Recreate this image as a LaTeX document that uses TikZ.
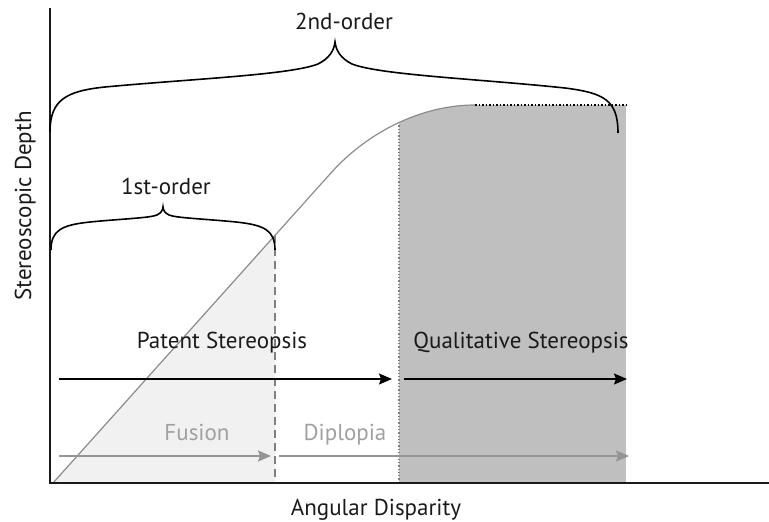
\documentclass[tikz,border=0pt]{standalone}
\usepackage{fontspec}
\setmainfont{PT Sans}
\usetikzlibrary{arrows.meta}

\definecolor{txtdark}{HTML}{1A1A1A}
\definecolor{txtgray}{HTML}{A0A0A0}
\definecolor{shadegray}{HTML}{BFBFBF}
\definecolor{lightfill}{HTML}{F1F1F1}

\begin{document}
\begin{tikzpicture}[
    x=1pt, y=-1pt,
    >={Stealth[length=13pt, width=11pt, inset=2pt]},
    font=\fontsize{23}{27}\selectfont,
    lbl/.style={
        text=txtdark, anchor=base, inner sep=0pt
    },
    lblgray/.style={
        lbl, text=txtgray
    },
    axisline/.style={
        draw=txtdark, line width=1.4pt
    },
    brace/.style={
        draw=black, line width=1.6pt
    },
    spanarrow/.style={
        ->, draw=black, line width=1.6pt
    },
    spangray/.style={
        ->, draw=black!42, line width=1.6pt
    },
    response/.style={
        draw=black!45, line width=1.2pt
    }
]
\useasboundingbox (0,0) rectangle (769,522);

% key points of the curve
\coordinate (orig) at (53,483);
\coordinate (fuslim) at (275,235);
\coordinate (bend) at (330,174);
\coordinate (sat) at (475,105);
\coordinate (satend) at (629,105);

% shaded zones
\fill[lightfill] (orig) -- (fuslim) -- (275,483) -- cycle;
\begin{scope}
    \clip (orig) -- (bend) .. controls (370,129) and (425,105) .. (sat)
        -- (640,105) -- (640,483) -- cycle;
    \fill[shadegray] (399,100) rectangle (626,483);
\end{scope}

% limits
\draw[draw=black!50, line width=1.2pt, dash pattern=on 8pt off 5pt]
    (fuslim) -- (275,483);
\draw[draw=black!50, line width=1.3pt, dotted] (399,122) -- (399,483);
\draw[draw=black, line width=1.5pt, dotted] (sat) -- (satend);

% response curve
\draw[response] (orig) -- (bend) .. controls (370,129) and (425,105) .. (sat);

% axes
\draw[axisline] (50,8) -- (50,483) -- (769,483);

% braces
\draw[brace] (50,132) .. controls (50,100) and (66,91) .. (105,87)
    .. controls (190,79) and (290,75) .. (318,64)
    .. controls (330,58) and (334,50) .. (335,42)
    .. controls (336,50) and (340,58) .. (352,64)
    .. controls (380,75) and (480,79) .. (565,88)
    .. controls (604,93) and (618,100) .. (618,133);
\draw[brace] (51,250) .. controls (51,230) and (62,225) .. (90,222)
    .. controls (120,219) and (150,218) .. (157,215)
    .. controls (161,213) and (163,210) .. (163,207)
    .. controls (163,210) and (165,213) .. (169,215)
    .. controls (176,218) and (206,219) .. (236,222)
    .. controls (264,225) and (275,230) .. (275,250);

% range arrows
\coordinate (patA) at (59,379);
\coordinate (patB) at (392,379);
\coordinate (qualA) at (404,379);
\coordinate (qualB) at (627,379);
\coordinate (fusA) at (59,456);
\coordinate (fusB) at (271,456);
\coordinate (dipA) at (279,456);
\coordinate (dipB) at (629,456);
\draw[spanarrow] (patA) -- (patB);
\draw[spanarrow] (qualA) -- (qualB);
\draw[spangray] (fusA) -- (fusB);
\draw[spangray] (dipA) -- (dipB);

% labels
\node[lbl] (second) at (344,29) {2nd-order};
\node[lbl] (first) at (166,194) {1st-order};
\node[lbl] (patent) at (222,348) {Patent Stereopsis};
\node[lbl] (qual) at (521,348) {Qualitative Stereopsis};
\node[lblgray] (fusion) at (197,440) {Fusion};
\node[lblgray] (diplopia) at (345,440) {Diplopia};
\node[lbl] (xlab) at (376,515) {Angular Disparity};
\node[lbl, rotate=90] (ylab) at (31,206) {Stereoscopic Depth};

\end{tikzpicture}
\end{document}
